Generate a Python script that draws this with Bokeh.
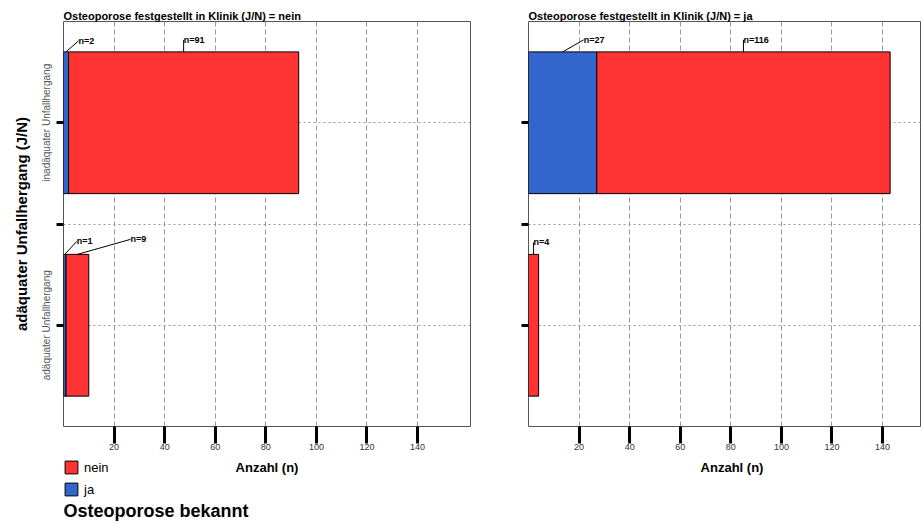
from bokeh.plotting import figure
from bokeh.models import FixedTicker, Legend, LegendItem, Label, Range1d
from bokeh.layouts import row, column
from bokeh.embed import file_html
from bokeh.resources import INLINE
from bokeh.core.properties import value

# ---------------- data ----------------
categories = ["adäquater Unfallhergang", "inadäquater Unfallhergang"]   # bottom -> top
panel_keys = ["nein", "ja"]
panel_titles = ["Osteoporose festgestellt in Klinik (J/N) = nein",
                "Osteoporose festgestellt in Klinik (J/N) = ja"]
ja_counts_klinik_nein = [1, 2]
nein_counts_klinik_nein = [9, 91]
ja_counts_klinik_ja = [0, 27]
nein_counts_klinik_ja = [4, 116]
x_ticks = [20, 40, 60, 80, 100, 120, 140]
legend_labels = ["nein", "ja"]
legend_title = "Osteoporose bekannt"
x_title = "Anzahl (n)"
y_title = "adäquater Unfallhergang (J/N)"

# ---------------- style ----------------
FONT = "Liberation Sans"
RED = "#FF3333"
BLUE = "#3366CC"
PX_PER_UNIT = 2.529
FRAME_H = 405
FULL_FRAME_W = 407
BAR_H = 0.7
TOP = 21
AXIS_BOTTOM = 30
BOTTOM_H = 66
# leader-line offsets (px right, px up) from bar top centre to label
leader_offsets = {
    ("nein", 0, "ja"): (12, 13),
    ("nein", 0, "nein"): (53, 15),
    ("nein", 1, "ja"): (12.5, 11),
    ("nein", 1, "nein"): (0, 12),
    ("ja", 0, "nein"): (0, 12),
    ("ja", 1, "ja"): (21, 12),
    ("ja", 1, "nein"): (0, 12),
}


def build_panel(key, title, ja, nein, frame_w, mb_left, mb_right, show_y):
    x_end = frame_w / PX_PER_UNIT
    py_per_unit = FRAME_H / len(categories)
    p = figure(frame_width=frame_w, frame_height=FRAME_H,
               x_range=Range1d(0, x_end), y_range=Range1d(0, len(categories)),
               min_border_left=mb_left, min_border_right=mb_right,
               min_border_top=TOP, min_border_bottom=AXIS_BOTTOM,
               output_backend="svg", toolbar_location=None)
    p.background_fill_color = "white"
    p.border_fill_color = "white"
    p.outline_line_color = "#555555"
    p.outline_line_width = 1

    p.title.text = title
    p.title.align = "left"
    p.title.text_font = FONT
    p.title.text_font_size = "11px"
    p.title.text_font_style = "bold"
    p.title.text_color = "black"
    p.title.standoff = 0
    p.title.offset = 0

    ys = [i + 0.5 for i in range(len(categories))]

    # bars (blue 'ja' first, then red 'nein')
    bj = [(y, v) for y, v in zip(ys, ja) if v > 0]
    p.hbar(y=[b[0] for b in bj], left=0, right=[b[1] for b in bj], height=BAR_H,
           fill_color=BLUE, line_color="black", line_width=1)
    p.hbar(y=ys, left=ja, right=[a + b for a, b in zip(ja, nein)], height=BAR_H,
           fill_color=RED, line_color="black", line_width=1)

    # labels with leader lines
    x0, y0, x1, y1, txt = [], [], [], [], []
    for i, y in enumerate(ys):
        segs = [("ja", 0, ja[i]), ("nein", ja[i], nein[i])]
        for name, left, v in segs:
            if v <= 0:
                continue
            ax = left + v / 2
            ay = y + BAR_H / 2
            dx, dy = leader_offsets[(key, i, name)]
            ex = ax + dx / PX_PER_UNIT
            ey = ay + dy / py_per_unit
            x0.append(ax); y0.append(ay); x1.append(ex); y1.append(ey)
            txt.append(f"n={v}")
    p.segment(x0=x0, y0=y0, x1=x1, y1=y1, line_color="black", line_width=1)
    p.text(x=x1, y=y1, text=txt, text_font=value(FONT), text_font_size="9px",
           text_font_style="bold", text_align="left", text_baseline="alphabetic",
           text_color="black")

    # x axis
    xa = p.xaxis[0]
    xa.ticker = FixedTicker(ticks=x_ticks)
    xa.axis_line_color = None
    xa.major_tick_out = 17
    xa.major_tick_in = 0
    xa.major_tick_line_width = 3
    xa.major_tick_line_color = "black"
    xa.minor_tick_line_color = None
    xa.major_label_text_font = FONT
    xa.major_label_text_font_size = "9px"
    xa.major_label_text_color = "#333333"
    xa.major_label_standoff = 0

    # y axis
    ya = p.yaxis[0]
    ya.ticker = FixedTicker(ticks=[0.5, 1.0, 1.5])
    if show_y:
        ya.major_label_overrides = {0.5: categories[0], 1: "", 1.5: categories[1]}
        ya.axis_label = y_title
    else:
        ya.major_label_overrides = {0.5: "", 1: "", 1.5: ""}
    ya.major_label_orientation = "vertical"
    ya.axis_line_color = None
    ya.major_tick_out = 7
    ya.major_tick_in = 0
    ya.major_tick_line_width = 3
    ya.major_tick_line_color = "black"
    ya.minor_tick_line_color = None
    ya.major_label_text_font = FONT
    ya.major_label_text_font_size = "10px"
    ya.major_label_text_color = "#555555"
    ya.major_label_standoff = 5
    ya.axis_label_text_font = FONT
    ya.axis_label_text_font_size = "15px"
    ya.axis_label_text_font_style = "bold"
    ya.axis_label_text_color = "black"
    ya.axis_label_standoff = 8

    # grids
    p.xgrid.ticker = FixedTicker(ticks=x_ticks)
    p.xgrid.grid_line_color = "#999999"
    p.xgrid.grid_line_dash = "5 3"
    p.xgrid.grid_line_width = 1
    p.ygrid.ticker = FixedTicker(ticks=[0.5, 1.0, 1.5])
    p.ygrid.grid_line_color = "#999999"
    p.ygrid.grid_line_dash = "2 3"
    p.ygrid.grid_line_width = 1
    return p


def build_bottom(main, frame_w, mb_left, mb_right):
    b = figure(frame_width=frame_w, frame_height=BOTTOM_H,
               x_range=main.x_range, y_range=Range1d(0, 1),
               min_border_left=mb_left, min_border_right=mb_right,
               min_border_top=0, min_border_bottom=0,
               x_axis_location=None, y_axis_location=None,
               output_backend="svg", toolbar_location=None)
    b.outline_line_color = None
    b.grid.visible = False
    b.background_fill_color = "white"
    b.border_fill_color = "white"
    # x-axis title, centred on the (full-width) panel
    b.add_layout(Label(x=FULL_FRAME_W / PX_PER_UNIT / 2, y=BOTTOM_H - 11,
                       y_units="screen", text=x_title, text_font=FONT,
                       text_font_size="13px", text_font_style="bold",
                       text_align="center", text_baseline="middle", text_color="black"))
    return b


left = build_panel(panel_keys[0], panel_titles[0], ja_counts_klinik_nein,
                   nein_counts_klinik_nein, FULL_FRAME_W, 63, 30, True)
right = build_panel(panel_keys[1], panel_titles[1], ja_counts_klinik_ja,
                    nein_counts_klinik_ja, 393, 28, 0, False)

left_bottom = build_bottom(left, FULL_FRAME_W, 63, 30)
right_bottom = build_bottom(right, 393, 28, 0)

# legend (in the panel under the left chart); proxies hold a NaN so nothing is drawn
nan = float("nan")
red_proxy = left_bottom.hbar(y=[nan], left=[nan], right=[nan], height=BAR_H,
                             fill_color=RED, line_color="black", line_width=1)
blue_proxy = left_bottom.hbar(y=[nan], left=[nan], right=[nan], height=BAR_H,
                              fill_color=BLUE, line_color="black", line_width=1)
legend = Legend(items=[LegendItem(label=legend_labels[0], renderers=[red_proxy]),
                       LegendItem(label=legend_labels[1], renderers=[blue_proxy])],
                location=(0, BOTTOM_H - 41), orientation="vertical",
                glyph_width=16, glyph_height=16, label_height=16, spacing=6,
                padding=0, margin=0, border_line_color=None, background_fill_alpha=0,
                label_text_font=FONT, label_text_font_size="13px", label_standoff=5,
                label_text_color="black")
left_bottom.add_layout(legend, "center")
left_bottom.add_layout(Label(x=0, y=12, x_units="screen", y_units="screen", text=legend_title,
                             text_font=FONT, text_font_size="18px", text_font_style="bold",
                             text_baseline="middle", text_color="black"))

layout = row(column(left, left_bottom, spacing=0), column(right, right_bottom, spacing=0),
             spacing=0)
open("out.html", "w").write(file_html(layout, INLINE))
